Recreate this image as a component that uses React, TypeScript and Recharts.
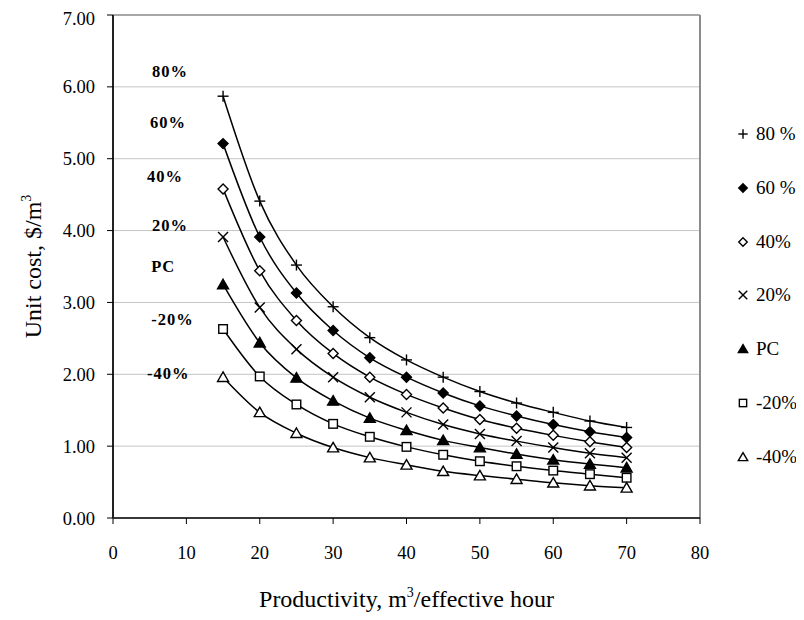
import React from 'react';
import { LineChart, Line, XAxis, YAxis, CartesianGrid, ReferenceDot, ReferenceLine } from 'recharts';

const productivity = [15, 20, 25, 30, 35, 40, 45, 50, 55, 60, 65, 70];
const s80 = [5.87, 4.41, 3.52, 2.94, 2.51, 2.2, 1.96, 1.76, 1.6, 1.47, 1.35, 1.26];
const s60 = [5.21, 3.91, 3.13, 2.61, 2.23, 1.96, 1.74, 1.56, 1.42, 1.3, 1.2, 1.12];
const s40 = [4.58, 3.44, 2.75, 2.29, 1.96, 1.72, 1.53, 1.37, 1.25, 1.15, 1.06, 0.98];
const s20 = [3.91, 2.93, 2.35, 1.96, 1.68, 1.47, 1.3, 1.17, 1.07, 0.98, 0.9, 0.84];
const sPC = [3.25, 2.44, 1.95, 1.63, 1.39, 1.22, 1.08, 0.98, 0.89, 0.81, 0.75, 0.7];
const sM20 = [2.63, 1.97, 1.58, 1.31, 1.13, 0.99, 0.88, 0.79, 0.72, 0.66, 0.61, 0.56];
const sM40 = [1.96, 1.47, 1.18, 0.98, 0.84, 0.74, 0.65, 0.59, 0.54, 0.49, 0.45, 0.42];

const xTicks = [0, 10, 20, 30, 40, 50, 60, 70, 80];
const yTicks = [0, 1, 2, 3, 4, 5, 6, 7];

const seriesNames = ['80 %', '60 %', '40%', '20%', 'PC', '-20%', '-40%'];
const seriesKeys = ['s80', 's60', 's40', 's20', 'sPC', 'sM20', 'sM40'];
const seriesMarkers = ['plus', 'diamondFilled', 'diamondOpen', 'cross', 'triangleFilled', 'squareOpen', 'triangleOpen'];
const seriesValues = [s80, s60, s40, s20, sPC, sM20, sM40];

const annotationTexts = ['80%', '60%', '40%', '20%', 'PC', '-20%', '-40%'];
const annotationX = [5.3, 5.05, 4.63, 5.3, 5.2, 5.2, 4.63];
const annotationY = [6.22, 5.51, 4.75, 4.08, 3.5, 2.76, 2.02];

const rows = productivity.map((x, i) => {
  const r: any = { x };
  seriesKeys.forEach((k, j) => {
    r[k] = seriesValues[j][i];
  });
  return r;
});

const FONT = '"Liberation Serif", "Times New Roman", serif';

function Marker({ kind, cx, cy, s = 1 }: { kind: string; cx: number; cy: number; s?: number }) {
  const sw = 1.4;
  switch (kind) {
    case 'plus':
      return (
        <g stroke="#000" strokeWidth={sw}>
          <line x1={cx - 5.5 * s} y1={cy} x2={cx + 5.5 * s} y2={cy} />
          <line x1={cx} y1={cy - 5.5 * s} x2={cx} y2={cy + 5.5 * s} />
        </g>
      );
    case 'cross':
      return (
        <g stroke="#000" strokeWidth={sw}>
          <line x1={cx - 5 * s} y1={cy - 5 * s} x2={cx + 5 * s} y2={cy + 5 * s} />
          <line x1={cx - 5 * s} y1={cy + 5 * s} x2={cx + 5 * s} y2={cy - 5 * s} />
        </g>
      );
    case 'diamondFilled':
    case 'diamondOpen': {
      const r = 5 * s;
      return (
        <polygon
          points={`${cx},${cy - r} ${cx + r},${cy} ${cx},${cy + r} ${cx - r},${cy}`}
          fill={kind === 'diamondFilled' ? '#000' : '#fff'}
          stroke="#000"
          strokeWidth={sw}
        />
      );
    }
    case 'triangleFilled':
    case 'triangleOpen': {
      const w = 5.5 * s;
      const h = 9.5 * s;
      return (
        <polygon
          points={`${cx},${cy - h * 0.55} ${cx + w},${cy + h * 0.45} ${cx - w},${cy + h * 0.45}`}
          fill={kind === 'triangleFilled' ? '#000' : '#fff'}
          stroke="#000"
          strokeWidth={sw}
        />
      );
    }
    case 'squareOpen': {
      const r = 4.3 * s;
      return <rect x={cx - r} y={cy - r} width={2 * r} height={2 * r} fill="#fff" stroke="#000" strokeWidth={sw} />;
    }
    default:
      return null;
  }
}

const makeDot = (kind: string) => (props: any) => {
  const { cx, cy, index } = props;
  if (cx == null || cy == null) return <g key={index} />;
  return (
    <g key={`${kind}-${index}`}>
      <Marker kind={kind} cx={cx} cy={cy} />
    </g>
  );
};

const XTitle = (props: any) => {
  const vb = props.viewBox || {};
  const cx = vb.x + vb.width / 2;
  return (
    <text x={cx} y={599} textAnchor="middle" fontFamily={FONT} fontSize={24} fill="#000">
      <tspan>Productivity, m</tspan>
      <tspan dy={-10} fontSize={14}>3</tspan>
      <tspan dy={10}>/effective hour</tspan>
    </text>
  );
};

const YTitle = (props: any) => {
  const vb = props.viewBox || {};
  const cy = vb.y + vb.height / 2;
  const cx = 33;
  return (
    <text
      x={cx}
      y={cy}
      textAnchor="middle"
      fontFamily={FONT}
      fontSize={24}
      fill="#000"
      transform={`rotate(-90, ${cx}, ${cy})`}
    >
      <tspan>Unit cost, $/m</tspan>
      <tspan dy={-10} fontSize={14}>3</tspan>
    </text>
  );
};

const AnnotationLabel = (text: string) => (props: any) => {
  const vb = props.viewBox || {};
  const x = vb.x + (vb.width || 0) / 2;
  const y = vb.y + (vb.height || 0) / 2;
  return (
    <text
      x={x}
      y={y}
      dy="0.35em"
      fontFamily={FONT}
      fontWeight="bold"
      fontSize={16.5}
      letterSpacing={1}
      fill="#000"
    >
      {text}
    </text>
  );
};

export default function App() {
  return (
    <div style={{ position: 'relative', width: 788, height: 604 }}>
      <LineChart
        width={788}
        height={604}
        data={rows}
        margin={{ top: 7, right: 96, bottom: 0, left: 0 }}
        style={{ fontFamily: FONT }}
      >
        <CartesianGrid vertical={false} stroke="#c4c4c4" strokeWidth={1} />
        <XAxis
          dataKey="x"
          type="number"
          domain={[0, 80]}
          ticks={xTicks}
          height={94}
          tickSize={6}
          tickMargin={22}
          axisLine={{ stroke: '#000', strokeWidth: 1.5 }}
          tickLine={{ stroke: '#000', strokeWidth: 1 }}
          tick={{ fill: '#000', fontSize: 18.5, fontFamily: FONT }}
          label={<XTitle />}
          allowDataOverflow
        />
        <YAxis
          type="number"
          domain={[0, 7]}
          ticks={yTicks}
          width={105}
          tickSize={6}
          tickMargin={12}
          tickFormatter={(v: number) => v.toFixed(2)}
          axisLine={{ stroke: '#222', strokeWidth: 2 }}
          tickLine={{ stroke: '#000', strokeWidth: 1 }}
          tick={{ fill: '#000', fontSize: 18.5, fontFamily: FONT }}
          label={<YTitle />}
          allowDataOverflow
        />
        <ReferenceLine y={7} stroke="#a8a8a8" strokeWidth={2} />
        <ReferenceLine x={80} stroke="#8c8c8c" strokeWidth={2} />
        {seriesKeys.map((k, j) => (
          <Line
            key={k}
            dataKey={k}
            name={seriesNames[j]}
            type="monotone"
            stroke="#000"
            strokeWidth={1.5}
            dot={makeDot(seriesMarkers[j])}
            activeDot={false}
            isAnimationActive={false}
          />
        ))}
        {annotationTexts.map((t, i) => (
          <ReferenceDot
            key={t}
            x={annotationX[i]}
            y={annotationY[i]}
            r={0}
            fill="none"
            stroke="none"
            label={AnnotationLabel(t)}
          />
        ))}
      </LineChart>
      {seriesNames.map((name, j) => (
        <div
          key={name}
          style={{
            position: 'absolute',
            left: 725,
            top: 126 + j * 53.8 - 12,
            height: 24,
            display: 'flex',
            alignItems: 'center',
            fontFamily: FONT,
            fontSize: 19,
            color: '#000',
            whiteSpace: 'nowrap',
          }}
        >
          <svg width={20} height={20} style={{ marginRight: 3 }}>
            <Marker kind={seriesMarkers[j]} cx={10} cy={10} s={0.85} />
          </svg>
          <span>{name}</span>
        </div>
      ))}
    </div>
  );
}
